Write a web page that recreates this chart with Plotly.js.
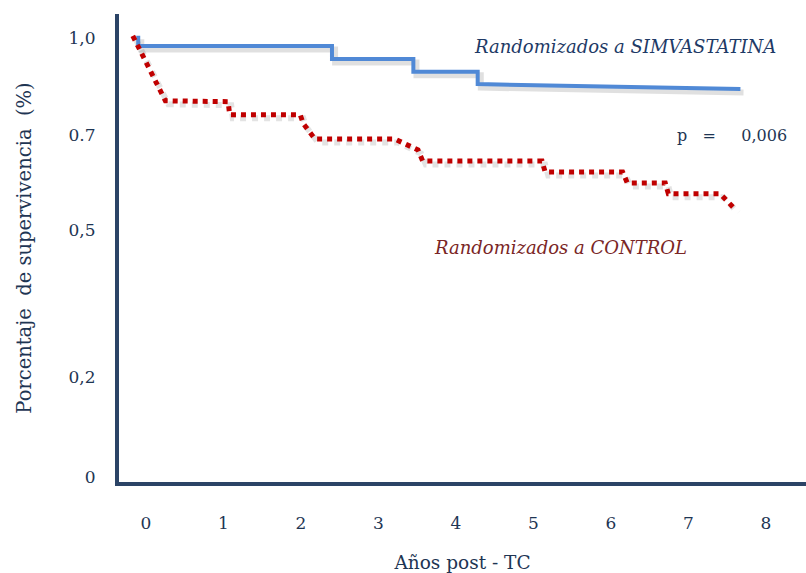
<!DOCTYPE html>
<html>
<head>
<meta charset="utf-8">
<script src="https://cdn.plot.ly/plotly-3.0.1.min.js"></script>
<style>html,body{margin:0;padding:0;background:#fff;}#chart{width:806px;height:573px;}</style>
</head>
<body>
<div id="chart"></div>
<script>
// ---- data (x: years post-TC, y: survival on the chart's vertical scale) ----
const simvaX = [-0.10, -0.10, 2.40, 2.40, 3.45, 3.45, 4.28, 4.28, 7.67];
const simvaY = [1.005, 0.982, 0.982, 0.952, 0.952, 0.923, 0.923, 0.895, 0.884];

const controlX = [-0.17, 0.25, 1.06, 1.08, 1.99, 2.03, 2.18, 3.21, 3.51, 3.57, 5.11, 5.15, 6.15, 6.21, 6.70, 6.74, 7.41, 7.60];
const controlY = [1.005, 0.857, 0.855, 0.825, 0.825, 0.805, 0.770, 0.770, 0.745, 0.720, 0.720, 0.695, 0.695, 0.670, 0.670, 0.645, 0.645, 0.610];

const xTickVals = [0, 1, 2, 3, 4, 5, 6, 7, 8];
const xTickText = ['0', '1', '2', '3', '4', '5', '6', '7', '8'];
const yTickVals = [1.0, 0.779, 0.563, 0.227, 0];
const yTickText = ['1,0', '0.7', '0,5', '0,2', '0'];

const pValueText = 'p&nbsp;&nbsp;&nbsp;=&nbsp;&nbsp;&nbsp;&nbsp;&nbsp;0,006';
const pValueX = 7.56;
const pValueY = 0.778;

// ---- styling ----
const navy = '#1e3553';
const axisCol = '#2b4466';
const font = 'DejaVu Serif, Liberation Serif, serif';
const shadow = (arr, d) => arr.map(v => v + d);

const traces = [
  {x: shadow(simvaX, 0.04), y: shadow(simvaY, -0.008), mode: 'lines', line: {color: 'rgba(0,0,0,0.12)', width: 6}, hoverinfo: 'skip', showlegend: false},
  {x: shadow(controlX, 0.04), y: shadow(controlY, -0.008), mode: 'lines', line: {color: 'rgba(0,0,0,0.11)', width: 6, dash: 'dot'}, hoverinfo: 'skip', showlegend: false},
  {x: simvaX, y: simvaY, mode: 'lines', name: 'Randomizados a SIMVASTATINA', line: {color: '#5089d6', width: 4}, showlegend: false},
  {x: controlX, y: controlY, mode: 'lines', name: 'Randomizados a CONTROL', line: {color: '#c00000', width: 5, dash: 'dot'}, showlegend: false}
];

const layout = {
  width: 806, height: 573,
  margin: {l: 119, r: 0, t: 14, b: 91},
  paper_bgcolor: '#ffffff', plot_bgcolor: '#ffffff',
  font: {family: font, color: navy, size: 16},
  showlegend: false,
  xaxis: {
    range: [-0.348, 8.516], showgrid: false, zeroline: false,
    showline: true, linecolor: axisCol, linewidth: 4,
    tickmode: 'array', tickvals: xTickVals, ticktext: xTickText,
    ticks: 'outside', ticklen: 23, tickcolor: 'rgba(0,0,0,0)',
    tickfont: {family: font, size: 17, color: navy},
    title: {text: 'Años post - TC', font: {family: font, size: 18.5, color: navy}, standoff: 25}
  },
  yaxis: {
    range: [-0.0114, 1.0547], showgrid: false, zeroline: false,
    showline: true, linecolor: axisCol, linewidth: 4,
    tickmode: 'array', tickvals: yTickVals, ticktext: yTickText,
    ticks: 'outside', ticklen: 16, tickcolor: 'rgba(0,0,0,0)',
    tickfont: {family: font, size: 17, color: navy},
    title: {text: 'Porcentaje  de supervivencia  (%)', font: {family: font, size: 19.5, color: navy}, standoff: 33}
  },
  annotations: [
    {x: 8.16, y: 0.98, xref: 'x', yref: 'y', xanchor: 'right', yanchor: 'middle', showarrow: false,
     text: '<i>Randomizados a SIMVASTATINA</i>', font: {family: font, size: 18, color: '#1e3a66'}},
    {x: pValueX, y: pValueY, xref: 'x', yref: 'y', xanchor: 'center', yanchor: 'middle', showarrow: false,
     text: pValueText, font: {family: font, size: 16, color: navy}},
    {x: 7.0, y: 0.523, xref: 'x', yref: 'y', xanchor: 'right', yanchor: 'middle', showarrow: false,
     text: '<i>Randomizados a CONTROL</i>', font: {family: font, size: 18, color: '#7a2626'}}
  ]
};

Plotly.newPlot('chart', traces, layout, {staticPlot: true, displayModeBar: false});
</script>
</body>
</html>
